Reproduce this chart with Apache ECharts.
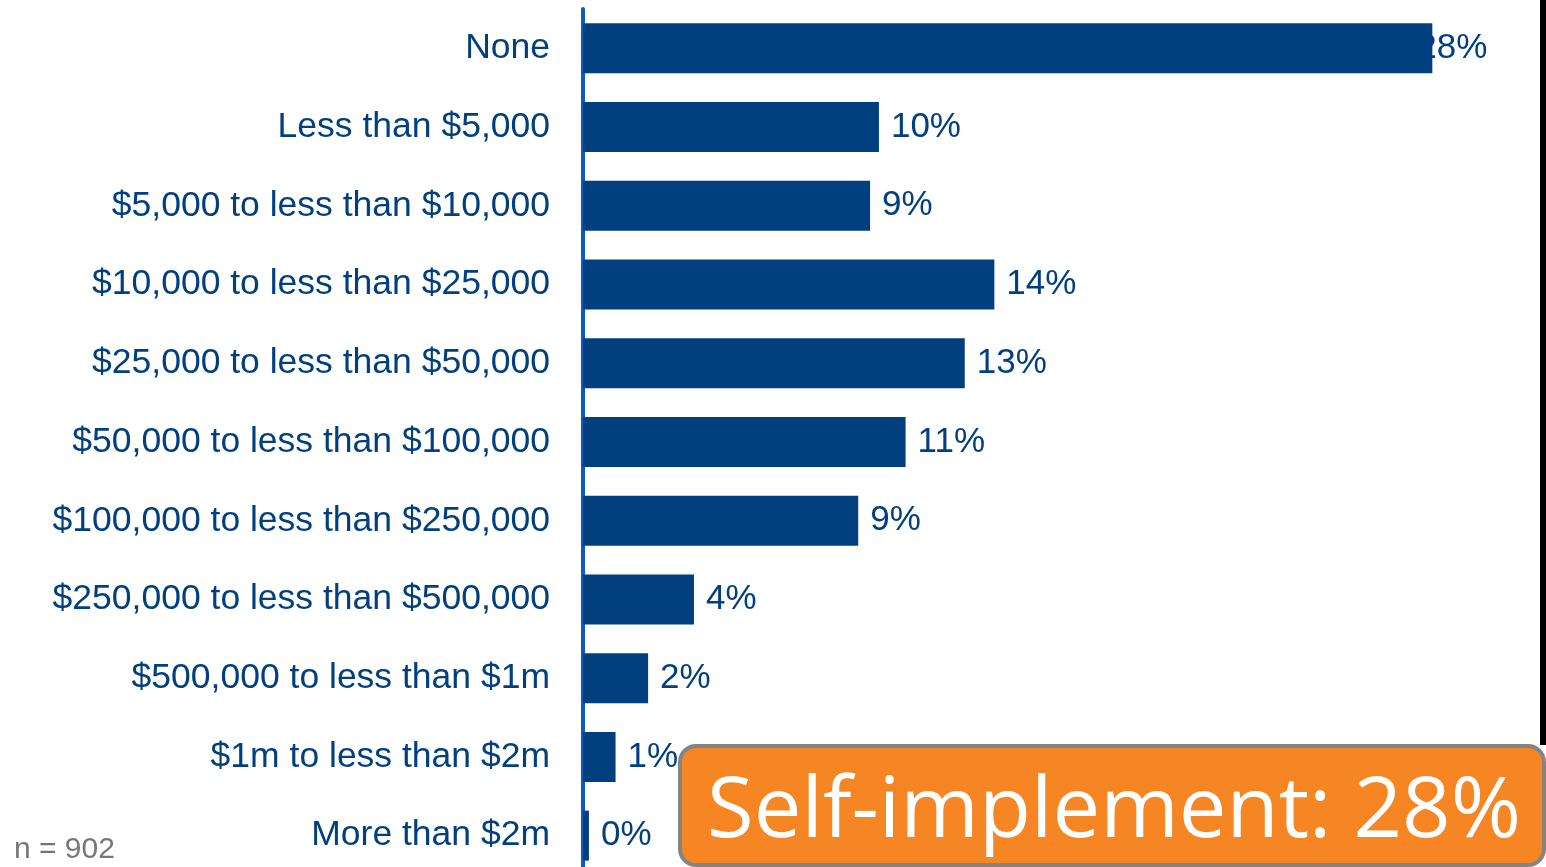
<!DOCTYPE html>
<html><head><meta charset="utf-8">
<script src="https://cdn.jsdelivr.net/npm/echarts@6/dist/echarts.min.js"></script>
<style>html,body{margin:0;padding:0;background:#fff;overflow:hidden}#c{width:1546px;height:880px}</style>
</head><body><div id="c"></div>
<script>
var categories = ["None","Less than $5,000","$5,000 to less than $10,000","$10,000 to less than $25,000","$25,000 to less than $50,000","$50,000 to less than $100,000","$100,000 to less than $250,000","$250,000 to less than $500,000","$500,000 to less than $1m","$1m to less than $2m","More than $2m"];
var values = [28.7, 10.0, 9.7, 13.9, 12.9, 10.9, 9.3, 3.75, 2.2, 1.1, 0.2];
var valueLabels = ["28%","10%","9%","14%","13%","11%","9%","4%","2%","1%","0%"];
var sampleNote = "n = 902";
var calloutText = "Self-implement: 28%";

var chart = echarts.init(document.getElementById('c'));
var navy = '#023F7E';
chart.setOption({
  animation: false,
  grid: {left: 583, right: 16, top: 9, height: 866, containLabel: false},
  xAxis: {type: 'value', min: 0, max: 32, show: false},
  yAxis: {
    type: 'category', data: categories, inverse: true,
    axisTick: {show: false},
    axisLine: {show: true, lineStyle: {color: '#0A5CBF', width: 4}},
    axisLabel: {fontSize: 35.5, color: navy, margin: 33, padding: [4, 0, 0, 0], fontFamily: 'Liberation Sans, Arial, sans-serif'}
  },
  series: [{
    type: 'bar', data: values, barWidth: 50,
    itemStyle: {color: navy},
    label: {
      show: true, position: 'right', distance: 12, offset: [0, 2],
      fontSize: 35, color: navy, fontFamily: 'Liberation Sans, Arial, sans-serif',
      formatter: function (p) { return valueLabels[p.dataIndex]; }
    },
    labelLayout: function (p) {
      if (p.dataIndex === 0) { return {dx: -27}; }
      return {};
    }
  }],
  graphic: [
    {type: 'rect', shape: {x: 1540, y: 0, width: 6, height: 745}, style: {fill: '#000'}, z: 10},
    {type: 'text', left: 14, top: 835, style: {text: sampleNote, fontSize: 30, fill: '#777777', fontFamily: 'Liberation Sans, Arial, sans-serif'}, z: 10},
    {type: 'rect', shape: {x: 680, y: 746, width: 864, height: 119, r: 16}, style: {fill: '#F68623', stroke: '#848484', lineWidth: 4}, z: 20},
    {type: 'text', x: 1114, y: 813, style: {text: calloutText, fontSize: 85, fill: '#ffffff', fontFamily: 'Open Sans, sans-serif', textAlign: 'center', textVerticalAlign: 'middle'}, z: 21}
  ]
});
</script></body></html>
